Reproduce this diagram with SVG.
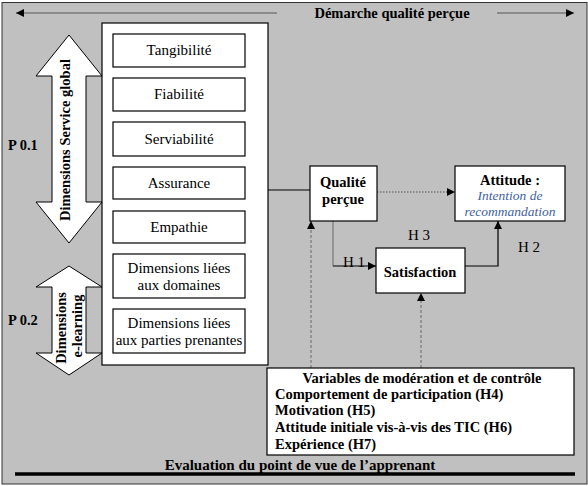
<svg xmlns="http://www.w3.org/2000/svg" width="588" height="486" viewBox="0 0 588 486">
<defs>
<style>
text{font-family:"Liberation Serif","Times New Roman",serif;fill:#000}
.b{font-weight:bold}
.r{font-size:15px}
.box{fill:#fff;stroke:#000;stroke-width:1.2}
.dash{stroke:#777;stroke-width:1.2;stroke-dasharray:3,2;fill:none}
.ln{stroke:#000;stroke-width:1.2;fill:none}
</style>
<marker id="ah" viewBox="0 0 10 10" refX="10" refY="5" markerWidth="8" markerHeight="8" markerUnits="userSpaceOnUse" orient="auto"><path d="M0,0 L10,5 L0,10 z" fill="#000"/></marker>
<marker id="ahs" viewBox="0 0 10 10" refX="0" refY="5" markerWidth="8" markerHeight="8" markerUnits="userSpaceOnUse" orient="auto"><path d="M10,0 L0,5 L10,10 z" fill="#000"/></marker>
</defs>
<rect x="2" y="2.5" width="585" height="481.5" fill="#c0c0c0" stroke="#333" stroke-width="1"/>

<g id="top-arrow">
<line x1="16" y1="13" x2="277" y2="13" stroke="#8a8a8a" stroke-width="2" marker-start="url(#ahs)"/>
<line x1="497" y1="13" x2="574" y2="13" stroke="#8a8a8a" stroke-width="2" marker-end="url(#ah)"/>
<text x="392" y="18" text-anchor="middle" class="b" font-size="14.5">Démarche qualité perçue</text>
</g>

<g id="dimensions-box">
<rect x="102" y="23" width="166" height="342" class="box"/>
</g>
<g id="tangibilite"><rect x="113" y="34" width="132" height="33" class="box"/><text x="179" y="55" text-anchor="middle" class="r">Tangibilité</text></g>
<g id="fiabilite"><rect x="113" y="78" width="132" height="33" class="box"/><text x="179" y="99" text-anchor="middle" class="r">Fiabilité</text></g>
<g id="serviabilite"><rect x="113" y="122" width="132" height="34" class="box"/><text x="179" y="144" text-anchor="middle" class="r">Serviabilité</text></g>
<g id="assurance"><rect x="113" y="167" width="132" height="32" class="box"/><text x="179" y="188" text-anchor="middle" class="r">Assurance</text></g>
<g id="empathie"><rect x="113" y="211" width="132" height="32" class="box"/><text x="179" y="232" text-anchor="middle" class="r">Empathie</text></g>
<g id="domaines"><rect x="113" y="254" width="132" height="44" class="box"/><text x="179" y="273" text-anchor="middle" class="r">Dimensions liées</text><text x="179" y="290" text-anchor="middle" class="r">aux domaines</text></g>
<g id="parties"><rect x="113" y="309" width="132" height="44" class="box"/><text x="179" y="328" text-anchor="middle" class="r">Dimensions liées</text><text x="179" y="345" text-anchor="middle" class="r">aux parties prenantes</text></g>

<g id="arrow-service">
<polygon points="69,35 102,76 86,76 86,202 102,202 69,243 36,202 52,202 52,76 36,76" fill="#fff" stroke="#000" stroke-width="1"/>
<text transform="translate(70,140) rotate(-90)" text-anchor="middle" class="b" font-size="14.5">Dimensions Service global</text>
</g>
<g id="arrow-elearning">
<polygon points="69,266 102,287 86,287 86,353 102,353 69,375 36,353 52,353 52,287 36,287" fill="#fff" stroke="#000" stroke-width="1"/>
<text transform="translate(66,328) rotate(-90)" text-anchor="middle" class="b" font-size="14.5">Dimensions</text>
<text transform="translate(82,326) rotate(-90)" text-anchor="middle" class="b" font-size="14.5">e-learning</text>
</g>

<text x="8" y="150" class="b" font-size="14.5">P 0.1</text>
<text x="8" y="325" class="b" font-size="14.5">P 0.2</text>

<g id="connectors">
<line x1="268" y1="190" x2="310" y2="190" class="ln"/>
<line x1="377" y1="192" x2="455" y2="192" stroke="#555" stroke-width="1.2" stroke-dasharray="1.5,1.5" marker-end="url(#ah)"/>
<polyline points="333,221 333,266" stroke="#777" stroke-width="1.2" fill="none"/>
<line x1="333" y1="266" x2="376" y2="266" class="ln" marker-end="url(#ah)"/>
<polyline points="465,266 498,266 498,221" class="ln" marker-end="url(#ah)"/>
<line x1="311" y1="368" x2="311" y2="221" class="dash" marker-end="url(#ah)"/>
<line x1="421" y1="368" x2="421" y2="293" class="dash" marker-end="url(#ah)"/>
<text x="343" y="267" font-size="15">H 1</text>
<text x="408" y="240" font-size="15">H 3</text>
<text x="518" y="252" font-size="15">H 2</text>
</g>

<g id="qualite"><rect x="310" y="166" width="67" height="55" class="box"/><text x="343" y="187" text-anchor="middle" class="b" font-size="14.5">Qualité</text><text x="343" y="204" text-anchor="middle" class="b" font-size="14.5">perçue</text></g>
<g id="attitude"><rect x="455" y="166" width="110" height="55" class="box"/><text x="510" y="185" text-anchor="middle" class="b" font-size="14.5">Attitude :</text><text x="510" y="200" text-anchor="middle" font-style="italic" font-size="13.5" style="fill:#3f5f9f">Intention de</text><text x="510" y="216" text-anchor="middle" font-style="italic" font-size="13.5" style="fill:#3f5f9f">recommandation</text></g>
<g id="satisfaction"><rect x="376" y="248" width="89" height="45" class="box"/><text x="420" y="277" text-anchor="middle" class="b" font-size="14.5">Satisfaction</text></g>

<g id="moderation">
<rect x="267" y="368" width="307" height="87" class="box"/>
<text x="422" y="383" text-anchor="middle" class="b" font-size="14.5">Variables de modération et de contrôle</text>
<text x="275" y="399" class="b" font-size="14.5">Comportement de participation (H4)</text>
<text x="275" y="415" class="b" font-size="14.5">Motivation (H5)</text>
<text x="275" y="432" class="b" font-size="14.5">Attitude initiale vis-à-vis des TIC (H6)</text>
<text x="275" y="449" class="b" font-size="14.5">Expérience (H7)</text>
</g>

<g id="bottom">
<text x="300" y="470" text-anchor="middle" class="b" font-size="15">Evaluation du point de vue de l’apprenant</text>
<line x1="15" y1="474" x2="575" y2="474" stroke="#000" stroke-width="3.5"/>
</g>
</svg>
